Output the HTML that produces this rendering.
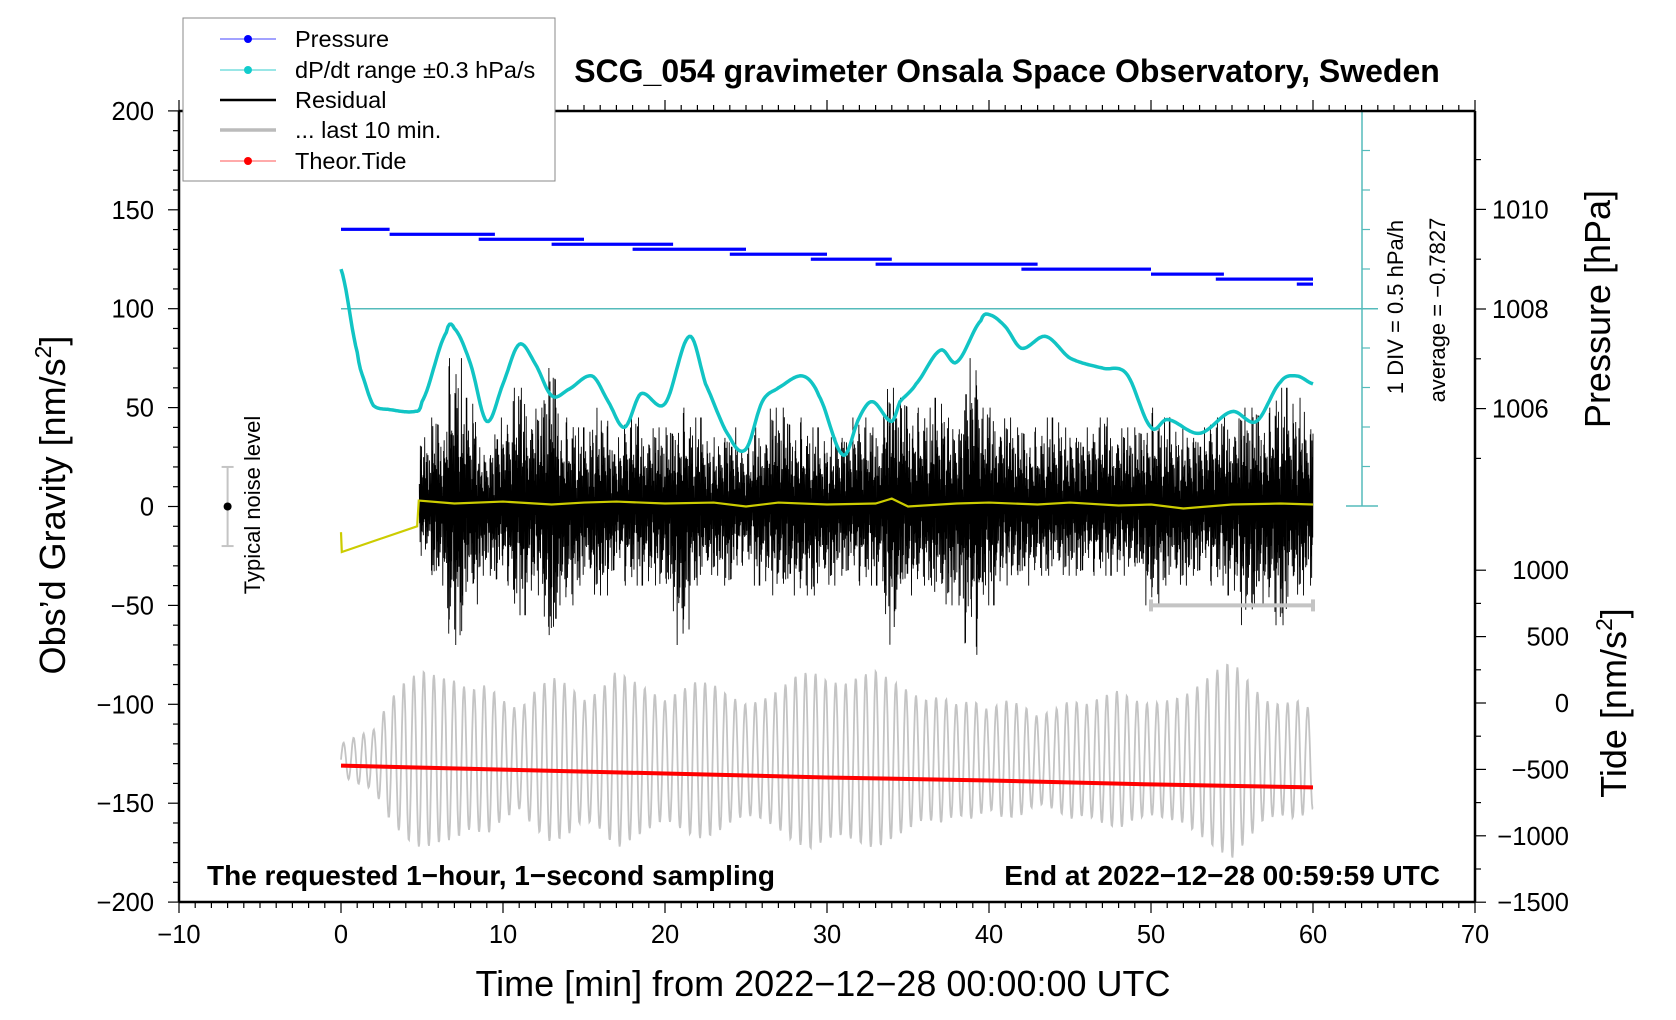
<!DOCTYPE html>
<html><head><meta charset="utf-8">
<style>
html,body{margin:0;padding:0;background:#fff;}
svg{display:block;font-family:"Liberation Sans",sans-serif;}
</style></head>
<body>
<svg id="chart" width="1676" height="1020" viewBox="0 0 1676 1020" xmlns="http://www.w3.org/2000/svg">
  <rect width="1676" height="1020" fill="#fff"/>
  <g id="marks"></g>
  <g id="axes"></g>
  <g>
    <rect x="183" y="18" width="372" height="163" fill="#fff" stroke="#888" stroke-width="1"/>
    <g>
      <line x1="220" y1="39" x2="276" y2="39" stroke="#4444ff" stroke-width="1"/><circle cx="248" cy="39" r="4" fill="#0000ff"/>
      <text x="295" y="47" font-size="23.5">Pressure</text></g>
    <g>
      <line x1="220" y1="70" x2="276" y2="70" stroke="#33cccc" stroke-width="1"/><circle cx="248" cy="70" r="4" fill="#11cccc"/>
      <text x="295" y="78" font-size="23.5">dP/dt range ±0.3 hPa/s</text></g>
    <g>
      <line x1="220" y1="100" x2="276" y2="100" stroke="#000" stroke-width="2.5"/>
      <text x="295" y="108" font-size="23.5">Residual</text></g>
    <g>
      <line x1="220" y1="130" x2="276" y2="130" stroke="#bbb" stroke-width="3.5"/>
      <text x="295" y="138" font-size="23.5">... last 10 min.</text></g>
    <g>
      <line x1="220" y1="161" x2="276" y2="161" stroke="#ff5555" stroke-width="1"/><circle cx="248" cy="161" r="4" fill="#ff0000"/>
      <text x="295" y="169" font-size="23.5">Theor.Tide</text></g>
  </g>
  <text x="1007" y="82" font-size="32" font-weight="bold" text-anchor="middle">SCG_054 gravimeter Onsala Space Observatory, Sweden</text>
  <text x="207" y="885" font-size="28" font-weight="bold">The requested 1−hour, 1−second sampling</text>
  <text x="1440" y="885" font-size="28" font-weight="bold" text-anchor="end">End at 2022−12−28 00:59:59 UTC</text>
  <text x="823" y="996" font-size="36" text-anchor="middle">Time [min] from 2022−12−28 00:00:00 UTC</text>
  <text transform="translate(65,505) rotate(-90)" font-size="36" text-anchor="middle">Obs’d Gravity [nm/s<tspan font-size="23" dy="-14">2</tspan><tspan dy="14">]</tspan></text>
  <text transform="translate(1610,309) rotate(-90)" font-size="36" text-anchor="middle">Pressure [hPa]</text>
  <text transform="translate(1626,703) rotate(-90)" font-size="36" text-anchor="middle">Tide [nm/s<tspan font-size="23" dy="-14">2</tspan><tspan dy="14">]</tspan></text>
  <text transform="translate(1403,307) rotate(-90)" font-size="22" text-anchor="middle">1 DIV = 0.5 hPa/h</text>
  <text transform="translate(1445,310) rotate(-90)" font-size="22" text-anchor="middle">average = −0.7827</text>
  <text transform="translate(260,505) rotate(-90)" font-size="22" text-anchor="middle">Typical noise level</text>
</svg>
<script>
// ---- data ----
const xTicks = [-10,0,10,20,30,40,50,60,70];
const yTicks = [200,150,100,50,0,-50,-100,-150,-200];
const pTicks = [1010,1008,1006];
const tideTicks = [1000,500,0,-500,-1000,-1500];
const pStart = [0,3,8.5,13,18,24,29,33,42,50,54,59];
const pEnd   = [3,9.5,15,20.5,25,30,34,43,50,54.5,60,60];
const pVal   = [1009.6,1009.5,1009.4,1009.3,1009.2,1009.1,1009.0,1008.9,1008.8,1008.7,1008.6,1008.5];
const dpT = [0,1,1.5,2,3,4.5,5,6.5,7,8,9,10,11,12,13,14,15.5,16.5,17.5,18.5,20,21.5,22.5,24,25,26,27,28.5,29.5,31,32,32.8,34,34.5,35.5,37,38,39.5,40,41,42,43.5,45,47,48.5,50,51,53,55,56.5,58,59,60];
const dpV = [120,78,62,51,49,48,53,88,90,72,43,62,82,72,56,59,66,53,40,57,52,86,62,35,29,53,60,66,56,26,45,53,43,53,62,79,73,94,97,91,80,86,75,70,67,40,44,37,48,43,63,66,62];
const resMax = [35,45,75,55,30,45,60,50,70,45,40,50,35,45,40,40,50,45,35,40,30,40,50,45,40,35,40,45,40,60,55,50,55,45,75,50,45,40,40,45,40,40,45,40,40,50,45,40,40,45,45,50,50,60,55,45];
const resMin = [-25,-40,-70,-50,-35,-40,-55,-45,-75,-50,-40,-45,-35,-40,-40,-45,-70,-40,-35,-40,-30,-40,-45,-45,-45,-40,-35,-40,-40,-70,-45,-40,-50,-50,-75,-50,-40,-40,-35,-35,-35,-35,-35,-35,-35,-50,-40,-40,-35,-40,-45,-60,-50,-60,-45,-40];
const resPattern = [0.35,-0.5,0.8,-0.3,0.55,-0.9,0.2,-0.6,1.0,-0.4,0.65,-0.25,0.45,-0.75,0.3,-0.55,0.9,-0.15,0.25,-0.35,0.6,-0.45,0.15,-0.7,0.4,-0.2,0.5,-0.85,0.1,-0.3,0.7];
const yelT = [0,0.05,4.7,4.8,7,10,13,15,17,20,23,25,27,30,33,34,35,38,40,43,45,48,50,52,55,58,60];
const yelV = [-13,-23,-10,3,1.5,2.5,1,2,2.5,1.5,2,0,2,1,1.5,4,0,1.5,2,1,2,0.5,1,-1,1,1.5,1];
const grayCenter = -128;
const grayAmp = [8,12,15,30,40,45,42,40,35,38,30,25,35,42,38,30,35,45,40,35,30,35,40,38,32,28,30,35,42,45,40,38,42,45,40,35,30,32,28,30,25,30,28,22,25,30,28,32,35,30,28,30,32,38,45,50,40,30,28,30,25];
const tideT = [0,10,20,30,40,50,60];
const tideV = [-131,-133,-135,-137,-138.5,-140.5,-142];

// ---- scales ----
const X = t => 341 + t*16.2;
const Y = g => 506.5 - g*1.978;
const P = p => 309 - (p-1008)*49.8;
const TD = v => 703 - v*0.1328;
const NS = 'http://www.w3.org/2000/svg';
const marks = document.getElementById('marks');
const axes = document.getElementById('axes');
function mk(tag, parent, attrs){const e=document.createElementNS(NS,tag);for(const k in attrs)e.setAttribute(k,attrs[k]);parent.appendChild(e);return e;}
function interp(ts,vs,t){for(let i=0;i<ts.length-1;i++){if(t>=ts[i]&&t<=ts[i+1]){const f=(t-ts[i])/(ts[i+1]-ts[i]||1);return vs[i]+f*(vs[i+1]-vs[i]);}}return vs[vs.length-1];}
function smooth(ts,vs,t){for(let i=0;i<ts.length-1;i++){if(t>=ts[i]&&t<=ts[i+1]){const f=(t-ts[i])/(ts[i+1]-ts[i]||1);const p0=vs[Math.max(0,i-1)],p1=vs[i],p2=vs[i+1],p3=vs[Math.min(vs.length-1,i+2)];const f2=f*f,f3=f2*f;return 0.5*((2*p1)+(-p0+p2)*f+(2*p0-5*p1+4*p2-p3)*f2+(-p0+3*p1-3*p2+p3)*f3);}}return vs[vs.length-1];}

let g = mk('g', marks, {});


mk('line', g, {x1:X(0),y1:Y(100),x2:1378,y2:Y(100),stroke:'#55bbbb','stroke-width':1.5});
mk('line', g, {x1:1362,y1:111,x2:1362,y2:506,stroke:'#55bbbb','stroke-width':1.5});
mk('line', g, {x1:1346,y1:506,x2:1378,y2:506,stroke:'#55bbbb','stroke-width':1.5});
mk('line', g, {x1:1346,y1:111,x2:1378,y2:111,stroke:'#55bbbb','stroke-width':1.5});
for(let i=1;i<10;i++){ if(i===5) continue; mk('line', g, {x1:1362,y1:111+i*39.5,x2:1370,y2:111+i*39.5,stroke:'#55bbbb','stroke-width':1.2}); }

let gd='';
for(let s=0;s<=3600;s+=2){const t=s/60;const a=interp(grayAmp.map((_,i)=>i),grayAmp,t);const v=grayCenter+a*Math.sin(2*Math.PI*t/0.62);gd+=(s?'L':'M')+X(t).toFixed(1)+' '+Y(v).toFixed(1);}
const grayPath = mk('path', marks, {d:gd,fill:'none',stroke:'#c4c4c4','stroke-width':1.8});



let rd='';let k=0;
for(let s=290;s<=3600;s+=1){const t=s/60;const mi=Math.min(resMax.length-1,Math.max(0,Math.round(t)-5));const idx=(k*11+Math.floor(k/7))%resPattern.length;let m=resPattern[idx];if((k%2===0)!==(m>0))m=-m;m=Math.max(-1,Math.min(1,m*(0.75+0.6*Math.abs(resPattern[(k*5+3)%resPattern.length]))));k++;const v=m>0?m*resMax[mi]:-m*resMin[mi];rd+=(rd?'L':'M')+X(t).toFixed(2)+' '+Y(v).toFixed(1);}
const resPath = mk('path', marks, {d:rd,fill:'none',stroke:'#000','stroke-width':0.9});



const yelPath = mk('path', marks, {d:yelT.map((t,i)=>(i?'L':'M')+X(t)+' '+Y(yelV[i])).join(''),fill:'none',stroke:'#cccc00','stroke-width':2.2});



let cd='';
for(let s=0;s<=3600;s+=6){const t=s/60;cd+=(s?'L':'M')+X(t).toFixed(1)+' '+Y(smooth(dpT,dpV,t)).toFixed(1);}
const dpPath = mk('path', marks, {d:cd,fill:'none',stroke:'#11c4c4','stroke-width':3.5,'stroke-linejoin':'round'});



const pg = mk('g', marks, {fill:'#0000ff'});


for(let i=0;i<pStart.length;i++){
  const r = mk('rect', pg, {x:X(pStart[i]),y:P(pVal[i])-1.6,width:Math.max(3,X(pEnd[i])-X(pStart[i])),height:3.2});
  
  
}

const tidePath = mk('path', marks, {d:tideT.map((t,i)=>(i?'L':'M')+X(t)+' '+Y(tideV[i])).join(''),fill:'none',stroke:'#ff0000','stroke-width':4});



const bar = mk('g', marks, {stroke:'#c4c4c4','stroke-width':4});


mk('line', bar, {x1:X(50),y1:Y(-50),x2:X(60),y2:Y(-50)});
mk('line', bar, {x1:X(50),y1:Y(-50)-6,x2:X(50),y2:Y(-50)+6});
mk('line', bar, {x1:X(60),y1:Y(-50)-6,x2:X(60),y2:Y(-50)+6});

const nz = mk('g', marks, {});


mk('line', nz, {x1:X(-7),y1:Y(20),x2:X(-7),y2:Y(-20),stroke:'#c4c4c4','stroke-width':2});
mk('line', nz, {x1:X(-7)-6,y1:Y(20),x2:X(-7)+6,y2:Y(20),stroke:'#c4c4c4','stroke-width':2});
mk('line', nz, {x1:X(-7)-6,y1:Y(-20),x2:X(-7)+6,y2:Y(-20),stroke:'#c4c4c4','stroke-width':2});
mk('circle', nz, {cx:X(-7),cy:Y(0),r:4,fill:'#000'});

const fr = mk('g', axes, {stroke:'#000','stroke-width':2.5,fill:'none'});


mk('line', fr, {x1:179,y1:111,x2:1475,y2:111});
mk('line', fr, {x1:179,y1:902,x2:1475,y2:902});
mk('line', fr, {x1:179,y1:111,x2:179,y2:902});
mk('line', fr, {x1:1475,y1:111,x2:1475,y2:902});
const tk = mk('g', axes, {stroke:'#000','stroke-width':1.2});
for(let t=-10;t<=70;t++){const L=t%10===0?11:6;mk('line',tk,{x1:X(t),y1:902,x2:X(t),y2:902+L});mk('line',tk,{x1:X(t),y1:111,x2:X(t),y2:111-L});}
for(let v=-200;v<=200;v+=10){const L=v%50===0?11:6;mk('line',tk,{x1:179,y1:Y(v),x2:179-L,y2:Y(v)});}
for(let p=1005;p<=1011;p++){const L=p%2===0?11:6;mk('line',tk,{x1:1475,y1:P(p),x2:1475+L,y2:P(p)});}
for(let v=-1500;v<=1000;v+=250){const L=v%500===0?11:6;mk('line',tk,{x1:1475,y1:TD(v),x2:1475+L,y2:TD(v)});}
const lab = mk('g', axes, {'font-size':25.5,fill:'#000'});
xTicks.forEach(t=>{const e=mk('text',lab,{x:X(t),y:943,'text-anchor':'middle'});e.textContent=String(t).replace('-','−');
 
 });
yTicks.forEach(v=>{const e=mk('text',lab,{x:154,y:Y(v)+9,'text-anchor':'end'});e.textContent=String(v).replace('-','−');
 
 });
pTicks.forEach(p=>{const e=mk('text',lab,{x:1492,y:P(p)+9});e.textContent=String(p);
 
 });
tideTicks.forEach(v=>{const e=mk('text',lab,{x:1569,y:TD(v)+9,'text-anchor':'end'});e.textContent=String(v).replace('-','−');
 
 });
</script>
</body></html>
